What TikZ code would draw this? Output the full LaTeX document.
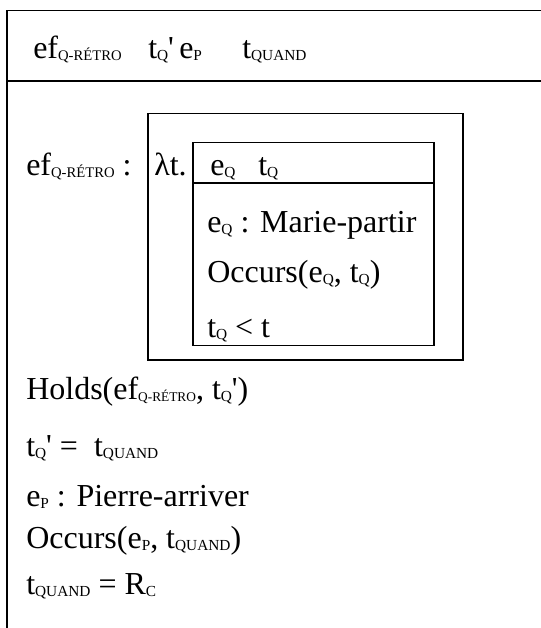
\documentclass[tikz,border=0pt]{standalone}
\usepackage{fontspec}
\setmainfont{Liberation Serif}
\newcommand{\ix}[1]{\raisebox{-1.5pt}{\fontsize{11.5}{11.5}\selectfont #1}}
\newcommand{\qretro}[1][11]{\raisebox{-1.5pt}{\fontsize{#1}{#1}\selectfont Q-RÉTRO}}
\newcommand{\pr}{\textquotesingle}

\begin{document}
\begin{tikzpicture}[x=0.75pt,y=-0.75pt,
  txt/.style={anchor=base west,inner sep=0pt,font=\fontsize{24}{29}\selectfont},
  box/.style={draw,line width=0.8pt}
]
  \useasboundingbox (0,0) rectangle (541,628);
  % outer box, open to the right and below
  \draw[box] (541,10.5) -- (7,10.5) -- (7,628);
  \draw[box] (7,81) -- (541,81);
  % universe
  \node[txt](u1) at (33,58.5)  {ef\qretro};
  \node[txt](u2) at (148,58.5) {t\ix{Q}\pr};
  \node[txt](u3) at (179,58.5) {e\ix{P}};
  \node[txt](u4) at (242,58.5) {t\ix{QUAND}};
  % lambda abstraction
  \draw[box] (148,113.5) rectangle (463,360);
  \draw[box] (193,142.5) rectangle (434,345.5);
  \draw[box] (193,183) -- (434,183);
  \node[txt](lab) at (26,175)  {ef\qretro\ :};
  \node[txt](lam) at (154,175) {λt.};
  \node[txt](v1)  at (210,175) {e\ix{Q}};
  \node[txt](v2)  at (258,175) {t\ix{Q}};
  \node[txt](c1)  at (207,232) {e\ix{Q} : Marie-partir};
  \node[txt](c2)  at (207,282) {Occurs(e\ix{Q}, t\ix{Q})};
  \node[txt](c3)  at (207,337) {t\ix{Q} < t};
  % conditions
  \node[txt](k1) at (26,399) {Holds(ef\qretro[10], t\ix{Q}\pr)};
  \node[txt](k2) at (26,456) {t\ix{Q}\pr{} =\ \ t\ix{QUAND}};
  \node[txt](k3) at (26,506) {e\ix{P} : Pierre-arriver};
  \node[txt](k4) at (26,548) {Occurs(e\ix{P}, t\ix{QUAND})};
  \node[txt](k5) at (26,594) {t\ix{QUAND} = R\ix{C}};
\end{tikzpicture}
\end{document}
